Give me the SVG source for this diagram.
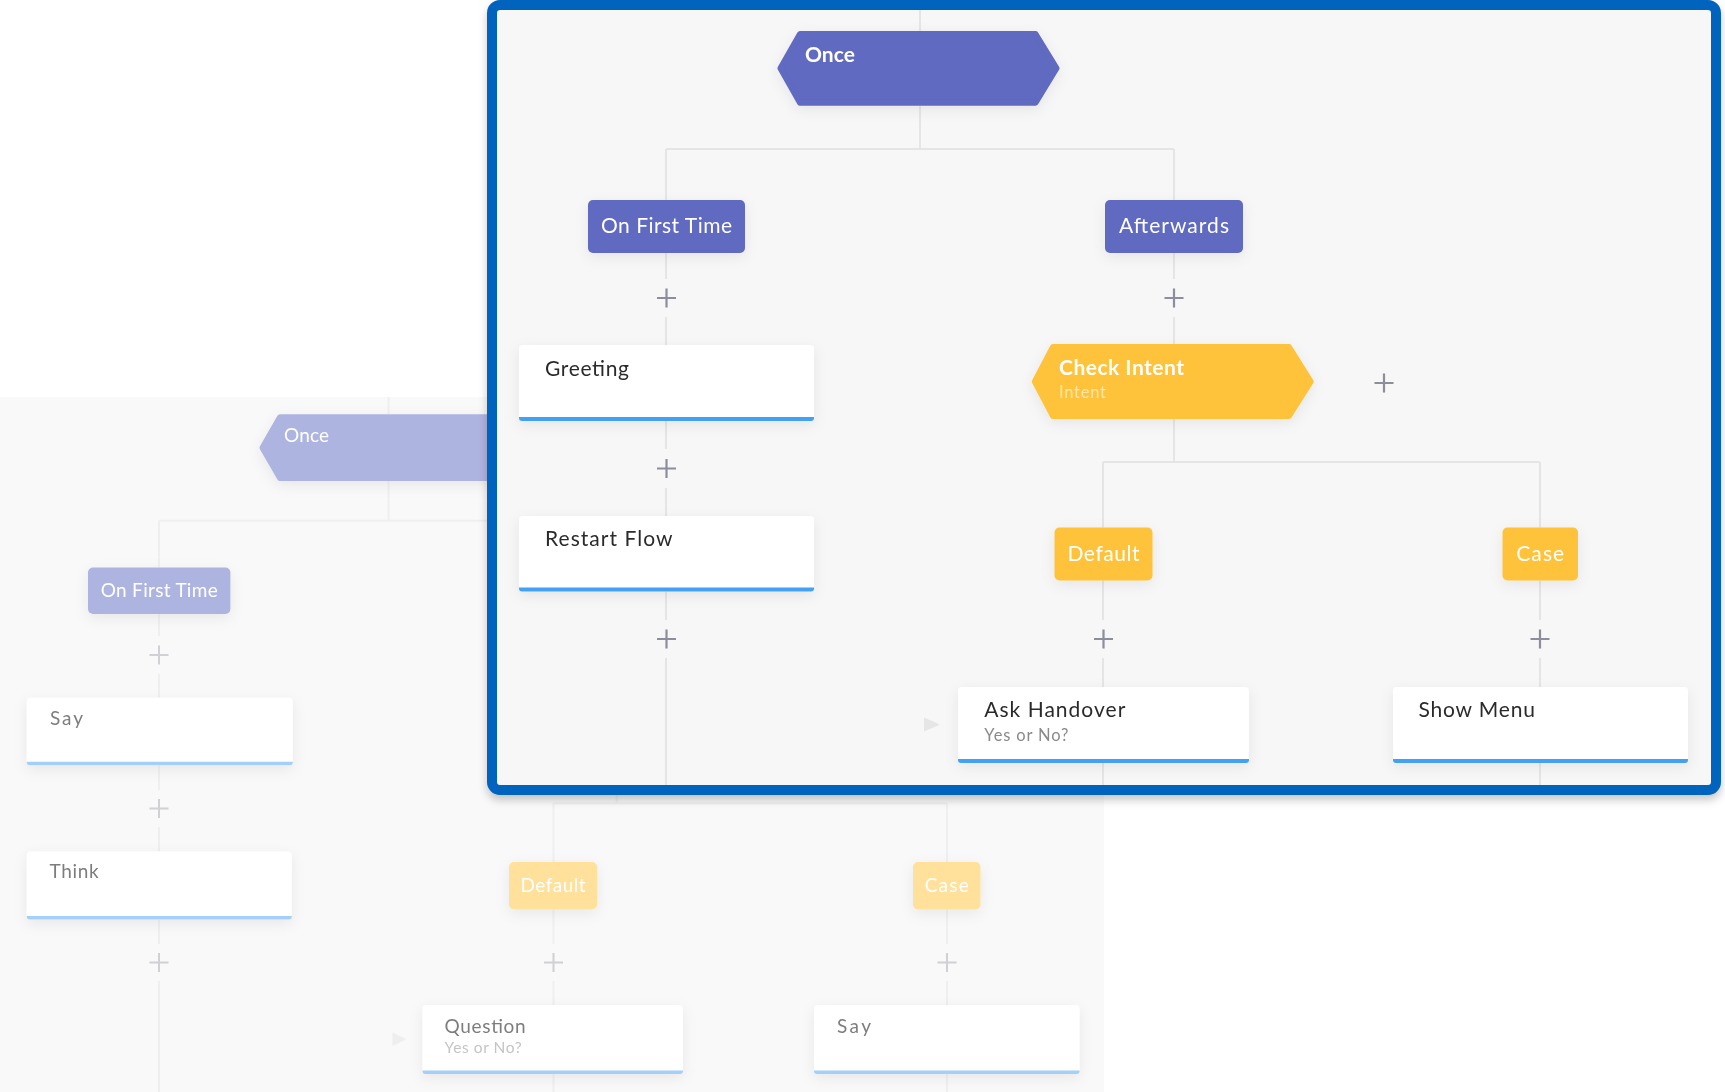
<svg xmlns="http://www.w3.org/2000/svg" width="1725" height="1092" viewBox="0 0 1725 1092">
<defs>
<filter id="panelShadow" x="-5%" y="-5%" width="110%" height="115%">
<feDropShadow dx="0" dy="5" stdDeviation="4" flood-color="#000" flood-opacity="0.22"/>
</filter>
<filter id="nodeShadow" x="-20%" y="-40%" width="140%" height="190%">
<feDropShadow dx="0" dy="4" stdDeviation="7" flood-color="#000" flood-opacity="0.07"/>
</filter>
<g id="plus"><path d="M-9.5 0H9.5M0 -9.5V9.5" fill="none"/></g>
</defs>
<style>
text{font-family:Lato,"Noto Sans","Liberation Sans",sans-serif;}
.lineF{stroke:#e5e5e5;stroke-width:2;fill:none;}
.lineB{stroke:#efefef;stroke-width:2;fill:none;}
.plusF{stroke:#8c8e9a;stroke-width:2.2;}
.plusB{stroke:#d0d0d5;stroke-width:2;}
.purple{fill:#5e6ac0;}
.purpleB{fill:#aeb4e0;}
.yellow{fill:#ffc23a;}
.yellowB{fill:#ffe19c;}
.boxF{fill:#ffffff;}
.barF{fill:#42a0f5;}
.barB{fill:#a3cff9;}
.lblW{fill:#ffffff;font-size:21px;}
.lblWB{fill:#ffffff;font-size:19px;}
.lblD{fill:#2b2b2b;font-size:21px;}
.lblG{fill:#7d7d7d;font-size:19px;}
.subF{fill:#8a8a8a;font-size:16.5px;}
.subB{fill:#c4c4c4;font-size:15.5px;}
.subY{fill:#ffe6a6;font-size:16.5px;}
</style>

<rect width="1725" height="1092" fill="#ffffff"/>
<!-- background canvas -->
<rect id="back-canvas" x="0" y="397" width="1104" height="695" fill="#f9f9f9"/>

<!-- back layer connectors -->
<g id="back-connectors" class="lineB">
<path d="M388.6 397V414M388.6 481V520.7M159 520.7H487M159 520.7V567.6"/>
<path d="M159 614V636M159 674V697.5M159 765V790M159 827V851.5M159 920V944M159 981V1092"/>
<path d="M616.7 700V803.3M553.5 803.3H947M553.5 803.3V862M947 803.3V862"/>
<path d="M553.5 909.5V944M553.5 981V1005M553.5 1074V1092"/>
<path d="M947 909.5V944M947 981V1005M947 1074V1092"/>
<g class="plusB">
<use href="#plus" x="159" y="655"/>
<use href="#plus" x="159" y="808.5"/>
<use href="#plus" x="159" y="962.5"/>
<use href="#plus" x="553.5" y="962.5"/>
<use href="#plus" x="947" y="962.5"/>
</g>
<path d="M392.5 1032.5L405 1038.6Q406.5 1039.3 405 1040L392.5 1046Z" fill="#eeeeee" stroke="none"/>
</g>

<!-- back layer nodes -->
<g id="back-once" filter="url(#nodeShadow)">
<path class="purpleB" d="M262.5 447.7L280 417.3H500V478H280Z" stroke="#aeb4e0" stroke-width="6" stroke-linejoin="round"/>
<text class="lblWB" x="284" y="442.3" textLength="45">Once</text>
</g>
<g id="back-on-first-time" filter="url(#nodeShadow)">
<rect class="purpleB" x="88" y="567.6" width="142.4" height="46.4" rx="5"/>
<text class="lblWB" x="159.2" y="596.7" text-anchor="middle" textLength="117">On First Time</text>
</g>
<g id="back-say" filter="url(#nodeShadow)">
<rect class="boxF" x="26.8" y="697.7" width="266" height="67.5" rx="4"/>
<path class="barB" d="M26.8 761.7H292.8V762.2Q292.8 765.2 289.8 765.2H29.8Q26.8 765.2 26.8 762.2Z"/>
<text class="lblG" x="50" y="725" textLength="33">Say</text>
</g>
<g id="back-think" filter="url(#nodeShadow)">
<rect class="boxF" x="26.8" y="851.5" width="265" height="68" rx="4"/>
<path class="barB" d="M26.8 916H291.8V916.5Q291.8 919.5 288.8 919.5H29.8Q26.8 919.5 26.8 916.5Z"/>
<text class="lblG" x="49.6" y="878.3" textLength="49">Think</text>
</g>
<g id="back-default" filter="url(#nodeShadow)">
<rect class="yellowB" x="509" y="862" width="88" height="47.5" rx="5"/>
<text class="lblWB" x="553" y="892" text-anchor="middle" textLength="65">Default</text>
</g>
<g id="back-case" filter="url(#nodeShadow)">
<rect class="yellowB" x="913" y="862" width="67.5" height="47.5" rx="5"/>
<text class="lblWB" x="946.7" y="892" text-anchor="middle" textLength="44">Case</text>
</g>
<g id="back-question" filter="url(#nodeShadow)">
<rect class="boxF" x="422.5" y="1005" width="260.5" height="69" rx="4"/>
<path class="barB" d="M422.5 1070.5H683V1071Q683 1074 680 1074H425.5Q422.5 1074 422.5 1071Z"/>
<text class="lblG" x="444.6" y="1032.7" textLength="81">Question</text>
<text class="subB" x="444.6" y="1053.3" textLength="77">Yes or No?</text>
</g>
<g id="back-say-2" filter="url(#nodeShadow)">
<rect class="boxF" x="814" y="1005" width="265.6" height="69" rx="4"/>
<path class="barB" d="M814 1070.5H1079.6V1071Q1079.6 1074 1076.6 1074H817Q814 1074 814 1071Z"/>
<text class="lblG" x="837" y="1033.3" textLength="34">Say</text>
</g>

<!-- front panel -->
<g id="panel" filter="url(#panelShadow)">
<rect x="492" y="5" width="1224" height="785" rx="8" fill="#f7f7f7" stroke="#0363be" stroke-width="10"/>
</g>

<!-- front connectors -->
<g id="connectors" class="lineF">
<path d="M920 10V31M920 106V149M666 149H1174M666 149V200M1174 149V200"/>
<path d="M666 253V279M666 317V345M666 421V449M666 488V516M666 591V620M666 658V785"/>
<path d="M1174 253V279M1174 317V344M1174 419V462M1103 462H1540M1103 462V527.5M1540 462V527.5"/>
<path d="M1103 580.5V620M1103 658V687M1103 763V785M1540 580.5V620M1540 658V687M1540 763V785"/>
<g class="plusF">
<use href="#plus" x="666.5" y="298"/>
<use href="#plus" x="1174" y="298"/>
<use href="#plus" x="666.5" y="468.5"/>
<use href="#plus" x="666.5" y="639"/>
<use href="#plus" x="1103.5" y="639"/>
<use href="#plus" x="1540" y="639"/>
<use href="#plus" x="1384" y="383"/>
</g>
<path d="M924 717.5L938 723.5Q940 724.5 938 725.5L924 731.5Z" fill="#e6e6e6" stroke="none"/>
</g>

<!-- front nodes -->
<g id="once" filter="url(#nodeShadow)">
<path class="purple" d="M780.5 68.3L800 34H1035.5L1056.5 68.3L1035.5 102.7H800Z" stroke="#5e6ac0" stroke-width="6" stroke-linejoin="round"/>
<text class="lblW" x="805" y="62" font-weight="bold" textLength="50">Once</text>
</g>
<g id="on-first-time" filter="url(#nodeShadow)">
<rect class="purple" x="588" y="200" width="157" height="53" rx="5"/>
<text class="lblW" x="666.5" y="233" text-anchor="middle" textLength="131">On First Time</text>
</g>
<g id="afterwards" filter="url(#nodeShadow)">
<rect class="purple" x="1105" y="200" width="138" height="53" rx="5"/>
<text class="lblW" x="1174" y="233" text-anchor="middle" textLength="110">Afterwards</text>
</g>
<g id="greeting" filter="url(#nodeShadow)">
<rect class="boxF" x="519" y="345" width="295" height="76" rx="4"/>
<path class="barF" d="M519 417H814V418Q814 421 811 421H522Q519 421 519 418Z"/>
<text class="lblD" x="545" y="376" textLength="84">Greeting</text>
</g>
<g id="restart-flow" filter="url(#nodeShadow)">
<rect class="boxF" x="519" y="516" width="295" height="75.5" rx="4"/>
<path class="barF" d="M519 587.5H814V588.5Q814 591.5 811 591.5H522Q519 591.5 519 588.5Z"/>
<text class="lblD" x="545" y="546" textLength="127.5">Restart Flow</text>
</g>
<g id="check-intent" filter="url(#nodeShadow)">
<path class="yellow" d="M1034.8 381.7L1053 347H1289L1310.6 381.7L1289 416H1053Z" stroke="#ffc23a" stroke-width="6" stroke-linejoin="round"/>
<text class="lblW" x="1059" y="375" font-weight="bold" textLength="125">Check Intent</text>
<text class="subY" x="1059" y="397.5" textLength="47">Intent</text>
</g>
<g id="default" filter="url(#nodeShadow)">
<rect class="yellow" x="1054.5" y="527.5" width="98" height="53" rx="5"/>
<text class="lblW" x="1103.5" y="561" text-anchor="middle" textLength="72">Default</text>
</g>
<g id="case" filter="url(#nodeShadow)">
<rect class="yellow" x="1502.5" y="527.5" width="75.5" height="53" rx="5"/>
<text class="lblW" x="1540.2" y="561" text-anchor="middle" textLength="48">Case</text>
</g>
<g id="ask-handover" filter="url(#nodeShadow)">
<rect class="boxF" x="958" y="687" width="291" height="76" rx="4"/>
<path class="barF" d="M958 759H1249V760Q1249 763 1246 763H961Q958 763 958 760Z"/>
<text class="lblD" x="984.3" y="717.3" textLength="141">Ask Handover</text>
<text class="subF" x="984.3" y="740.7" textLength="84">Yes or No?</text>
</g>
<g id="show-menu" filter="url(#nodeShadow)">
<rect class="boxF" x="1393" y="687" width="295" height="76" rx="4"/>
<path class="barF" d="M1393 759H1688V760Q1688 763 1685 763H1396Q1393 763 1393 760Z"/>
<text class="lblD" x="1418.4" y="717" textLength="116.5">Show Menu</text>
</g>
</svg>
